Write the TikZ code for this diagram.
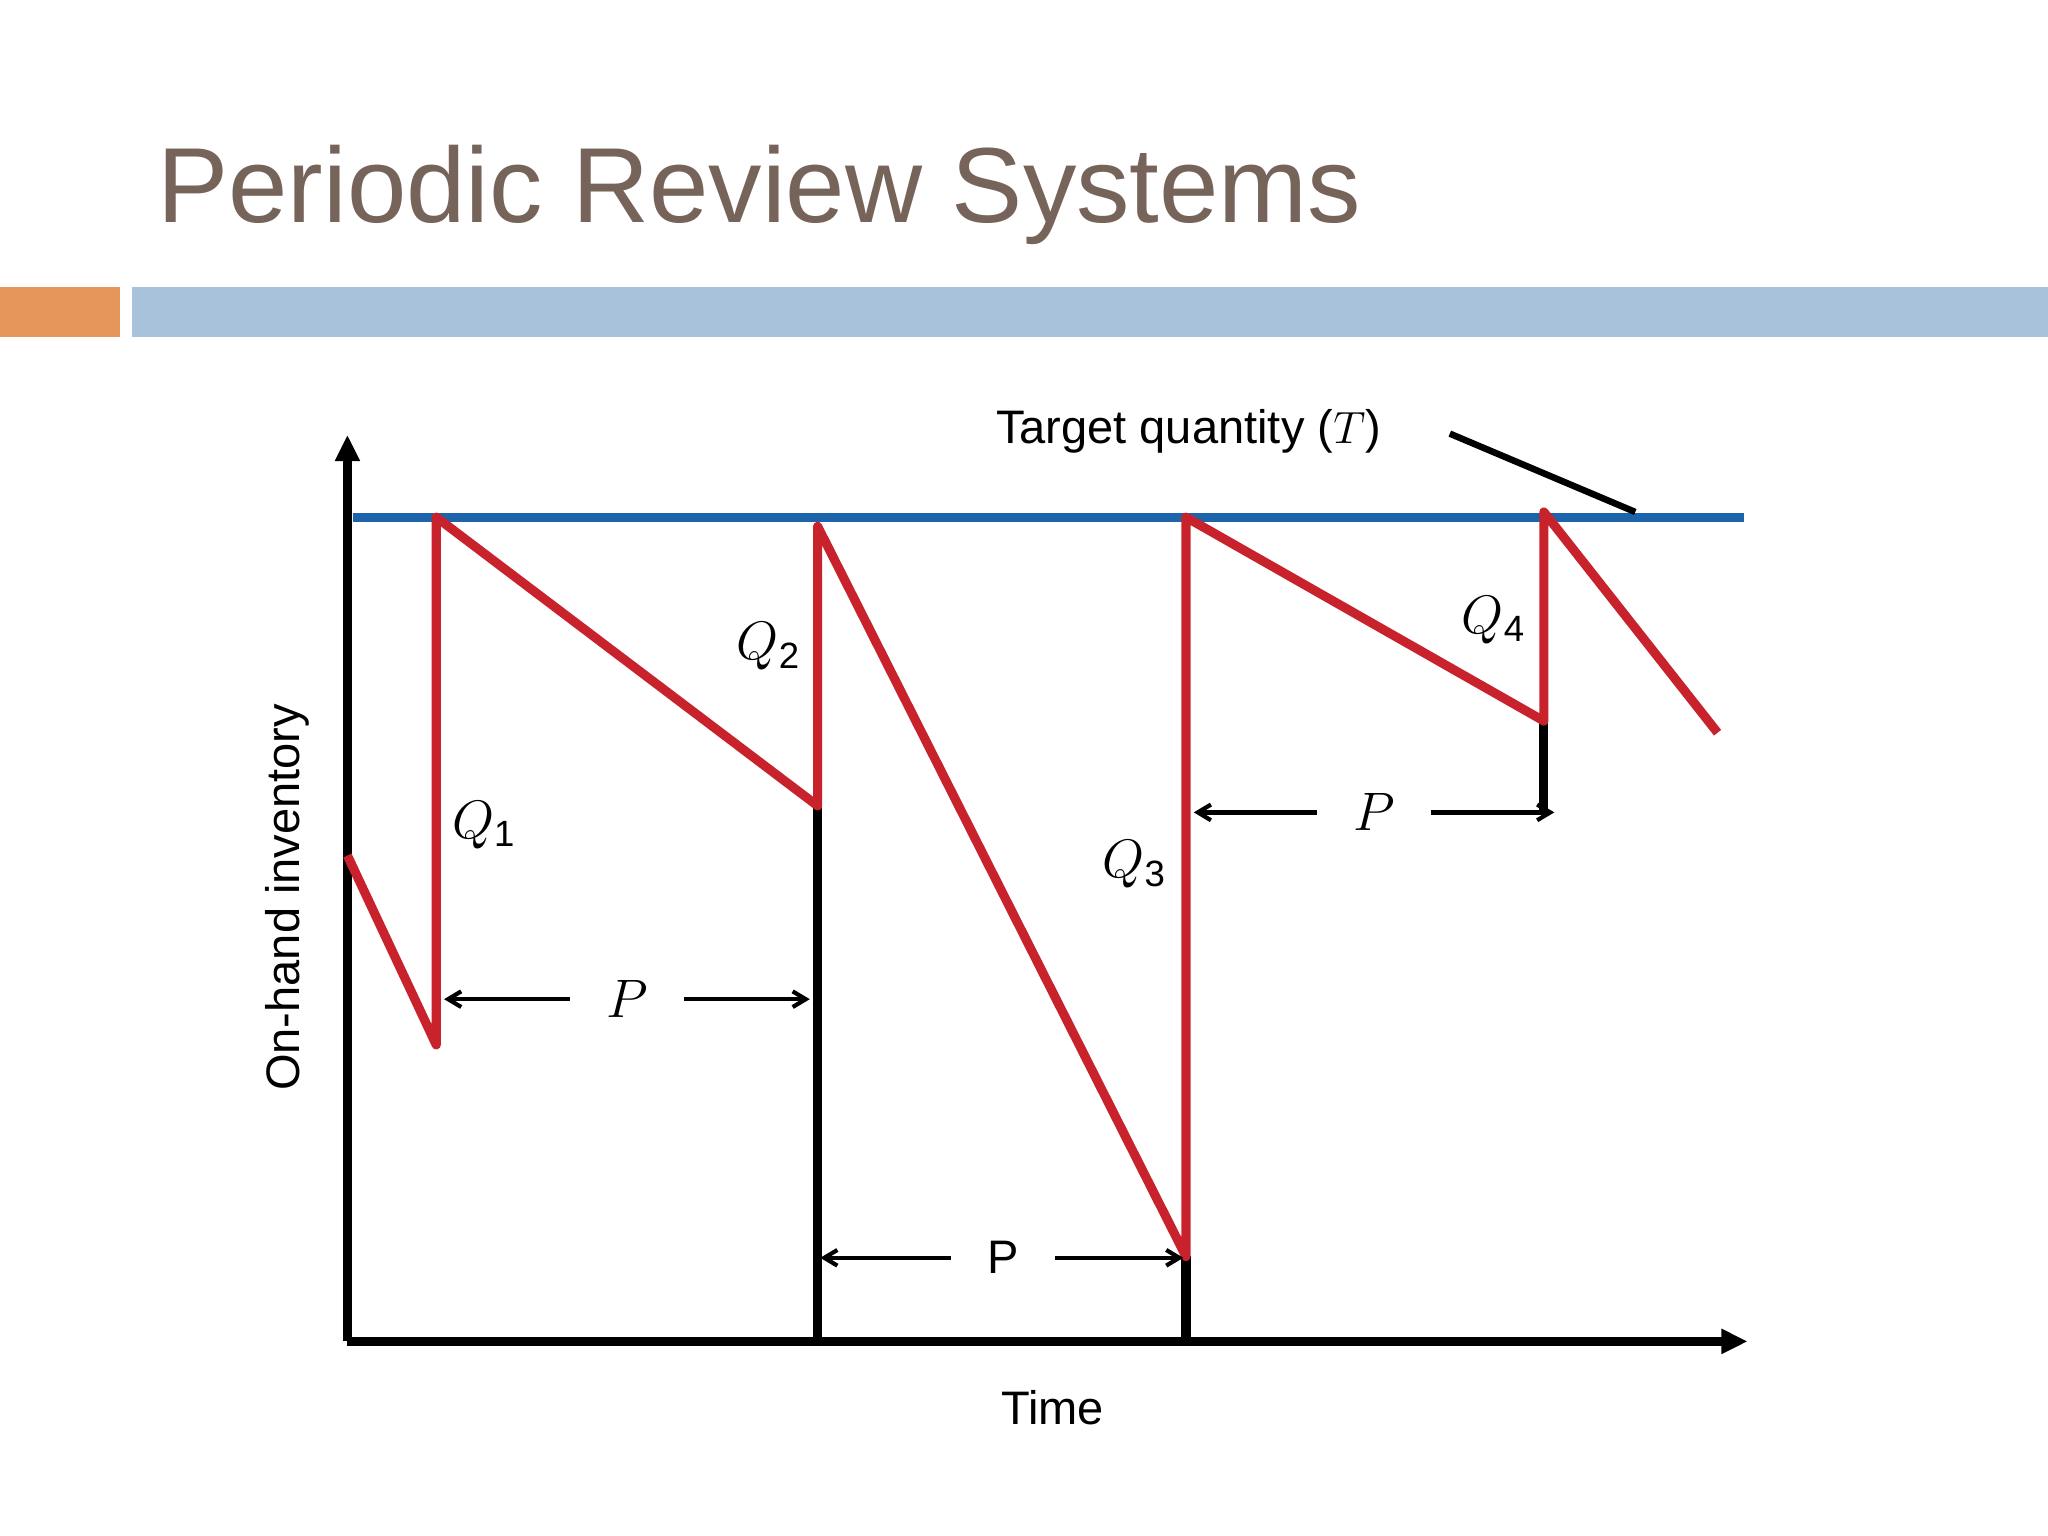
\documentclass[tikz,border=0pt]{standalone}
\usepackage{fontspec}
\setmainfont{Liberation Sans}
\usetikzlibrary{arrows.meta}
\definecolor{titlec}{RGB}{118,100,90}
\definecolor{orangec}{RGB}{230,150,90}
\definecolor{bluebar}{RGB}{167,194,218}
\definecolor{bluel}{RGB}{30,100,170}
\definecolor{redl}{RGB}{200,35,45}
\tikzset{
 ax/.style={line width=3.5pt,-{Triangle[length=10pt,width=9pt]}},
 blk/.style={line width=3.5pt},
 redp/.style={line width=3.5pt,redl,line join=round},
 parr/.style={line width=1.6pt,{Straight Barb[length=5pt,width=6pt]}-{Straight Barb[length=5pt,width=6pt]}},
 lbl/.style={font=\fontsize{18}{20}\selectfont,inner sep=1pt},
 ql/.style={font=\fontsize{20}{22}\selectfont,inner sep=1pt,fill=white}
}
\newcommand{\Qs}[1]{$Q$\raisebox{-0.3ex}{\fontsize{14}{14}\selectfont #1}}
\begin{document}
\begin{tikzpicture}[x=0.5pt,y=-0.5pt]
\useasboundingbox (0,0) rectangle (1568,1176);
\node[anchor=base west,text=titlec,font=\fontsize{47}{50}\selectfont,inner sep=0] (title) at (120,170) {\resizebox{461pt}{!}{Periodic Review Systems}};
\fill[orangec] (0,220) rectangle (92,258);
\fill[bluebar] (101,220) rectangle (1568,258);
% axes
\coordinate (o) at (266,1027);
\coordinate (ytop) at (266,333);
\coordinate (xend) at (1338,1027);
\draw[ax] (o) -- (ytop);
\draw[ax] (o) -- (xend);
% target line
\coordinate (t1) at (270,396); \coordinate (t2) at (1335,396);
\draw[bluel,line width=3.5pt] (t1) -- (t2);
% red path
\coordinate (r0) at (266,655); \coordinate (r1) at (334,800); \coordinate (r2) at (334,396);
\coordinate (r3) at (626,617); \coordinate (r4) at (626,403); \coordinate (r5) at (908,962);
\coordinate (r6) at (908,396); \coordinate (r7) at (1182,552); \coordinate (r8) at (1182,392);
\coordinate (r9) at (1315,561);
\coordinate (b3) at (626,1027); \coordinate (b5) at (908,1027); \coordinate (b7) at (1182,622);
\draw[blk] (r3) -- (b3);
\draw[blk] (r5) -- (b5);
\draw[blk] (r7) -- (b7);
\draw[redp] (r0) -- (r1) -- (r2) -- (r3) -- (r4) -- (r5) -- (r6) -- (r7) -- (r8) -- (r9);
% P arrows
\coordinate (pa1) at (340,765); \coordinate (pa2) at (620,765);
\coordinate (pb1) at (628,963); \coordinate (pb2) at (906,963);
\coordinate (pc1) at (914,622); \coordinate (pc2) at (1190,622);
\draw[parr] (pa1) -- (pa2);
\draw[parr] (pb1) -- (pb2);
\draw[parr] (pc1) -- (pc2);
\node[lbl,fill=white,inner xsep=14pt,font=\fontsize{20}{22}\selectfont] (p1) at (480,765) {$P$};
\node[lbl,fill=white,inner xsep=14pt] (p2) at (768,963) {P};
\node[lbl,fill=white,inner xsep=14pt,font=\fontsize{20}{22}\selectfont] (p3) at (1052,622) {$P$};
% Q labels
\node[ql] (q1) at (370,632) {\Qs{1}};
\node[ql] (q2) at (588,495) {\Qs{2}};
\node[ql] (q3) at (868,662) {\Qs{3}};
\node[ql] (q4) at (1143,475) {\Qs{4}};
% target label
\node[lbl] (tl) at (910,330) {Target quantity ($T$)};
\coordinate (tla) at (1110,332); \coordinate (tlb) at (1252,392);
\draw[blk,line width=2.5pt] (tla) -- (tlb);
\node[lbl,rotate=90] (yl) at (220,687) {On-hand inventory};
\node[lbl] (xl) at (806,1078) {Time};
\end{tikzpicture}
\end{document}
